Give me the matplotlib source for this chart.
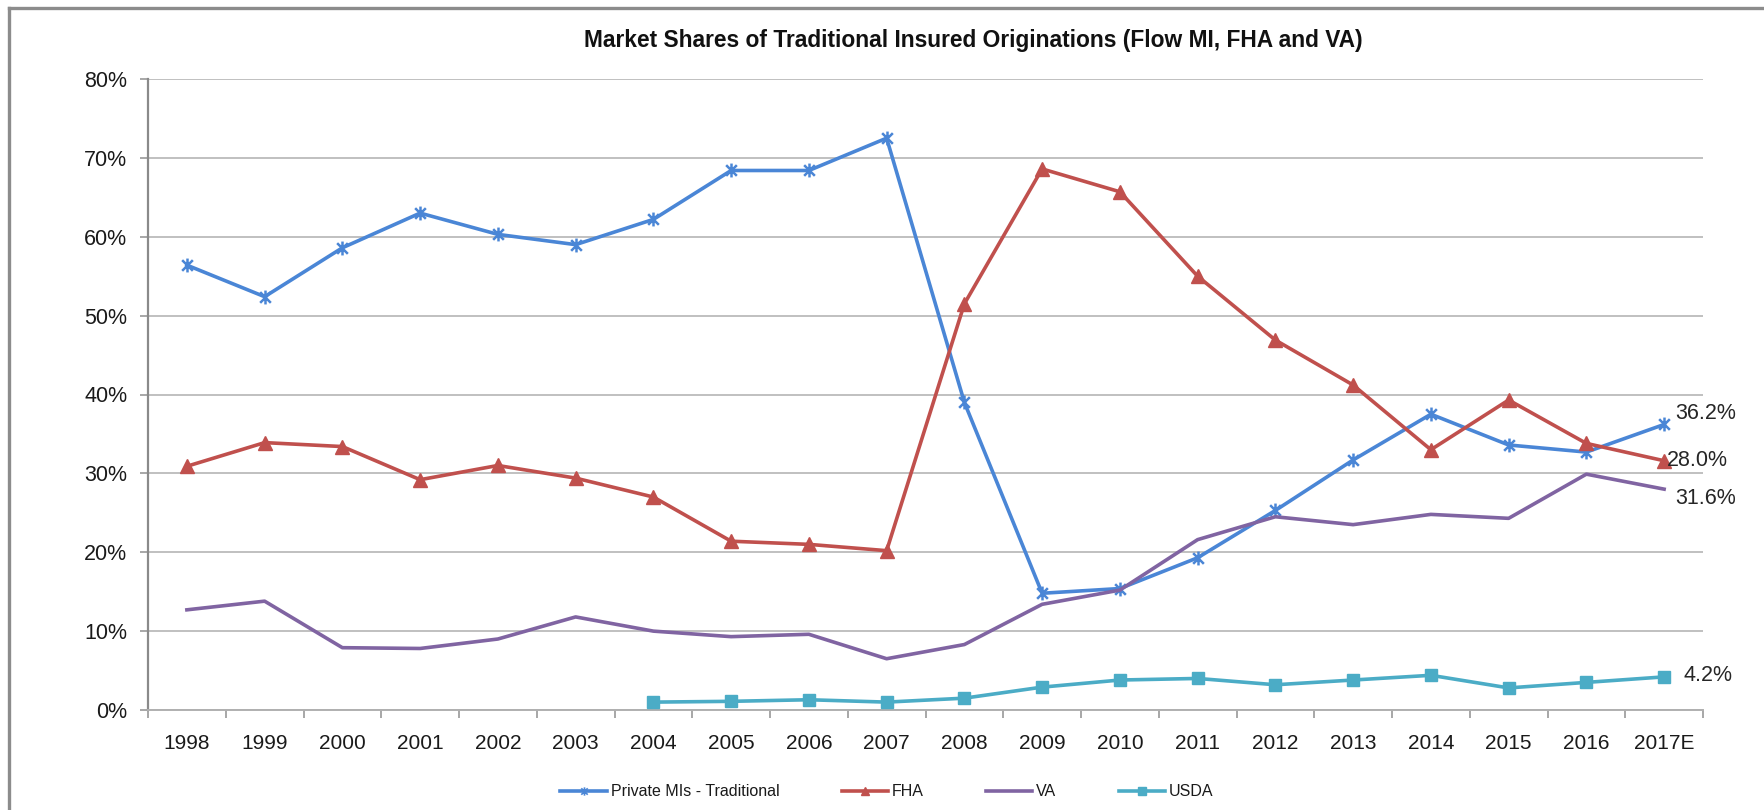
import matplotlib
matplotlib.use("Agg")
import matplotlib.pyplot as plt
from matplotlib.path import Path
from matplotlib.lines import Line2D
from matplotlib.ticker import FuncFormatter, FixedLocator

FONT = ['Liberation Sans Narrow', 'Liberation Sans', 'DejaVu Sans']
plt.rcParams['font.family'] = FONT

years = ['1998', '1999', '2000', '2001', '2002', '2003', '2004', '2005', '2006', '2007',
         '2008', '2009', '2010', '2011', '2012', '2013', '2014', '2015', '2016', '2017E']
private_mi = [56.4, 52.4, 58.6, 63.0, 60.3, 59.0, 62.2, 68.4, 68.4, 72.5,
              39.0, 14.8, 15.4, 19.3, 25.3, 31.7, 37.5, 33.6, 32.7, 36.2]
fha = [30.9, 33.9, 33.4, 29.2, 31.0, 29.4, 27.0, 21.4, 21.0, 20.2,
       51.5, 68.6, 65.7, 55.0, 46.9, 41.2, 33.0, 39.3, 33.8, 31.6]
va = [12.7, 13.8, 7.9, 7.8, 9.0, 11.8, 10.0, 9.3, 9.6, 6.5,
      8.3, 13.4, 15.2, 21.6, 24.5, 23.5, 24.8, 24.3, 29.9, 28.0]
usda = [None, None, None, None, None, None, 1.0, 1.1, 1.3, 1.0,
        1.5, 2.9, 3.8, 4.0, 3.2, 3.8, 4.4, 2.8, 3.5, 4.2]
series_names = ['Private MIs - Traditional', 'FHA', 'VA', 'USDA']
end_labels = ['36.2%', '28.0%', '31.6%', '4.2%']
title = 'Market Shares of Traditional Insured Originations (Flow MI, FHA and VA)'

W, H = 1764, 810
fig = plt.figure(figsize=(W / 100, H / 100), dpi=100)
ax = fig.add_axes([148 / W, 1 - 710 / H, (1703 - 148) / W, (710 - 79) / H])

x = list(range(len(years)))

star = Path([(-1, -1), (1, 1), (-1, 1), (1, -1), (0, -1.3), (0, 1.3)],
            [Path.MOVETO, Path.LINETO, Path.MOVETO, Path.LINETO, Path.MOVETO, Path.LINETO])

c_blue, c_red, c_purple, c_teal = '#4A86D6', '#C0504D', '#8064A2', '#4BACC6'
lw = 2.6

ax.plot(x, private_mi, color=c_blue, lw=lw, marker=star, ms=10, mew=1.8,
        label=series_names[0], zorder=3)
ax.plot(x, fha, color=c_red, lw=lw, marker='^', ms=10, label=series_names[1], zorder=3)
ax.plot(x, va, color=c_purple, lw=lw, label=series_names[2], zorder=3)
ux = [i for i, v in zip(x, usda) if v is not None]
uy = [v for v in usda if v is not None]
ax.plot(ux, uy, color=c_teal, lw=lw, marker='s', ms=9, label=series_names[3], zorder=3)

ax.set_xlim(-0.5, len(years) - 0.5)
ax.set_ylim(0, 80)
ax.yaxis.set_major_locator(FixedLocator([0, 10, 20, 30, 40, 50, 60, 70, 80]))
ax.yaxis.set_major_formatter(FuncFormatter(lambda v, p: f'{v:.0f}%'))
ax.grid(axis='y', color='#C0C0C0', lw=1.4, zorder=0)
ax.set_axisbelow(True)

ax.set_xticks(x)
ax.set_xticklabels(years)
ax.set_xticks([i - 0.5 for i in range(len(years) + 1)], minor=True)
ax.tick_params(axis='x', which='major', length=0, pad=17, labelsize=15, colors='#1a1a1a')
ax.tick_params(axis='x', which='minor', length=6, width=1.3, color='#a0a0a0')
ax.tick_params(axis='y', which='major', length=6, width=1.3, color='#a0a0a0', pad=9,
               labelsize=15.5, labelcolor='#1a1a1a')

for s in ['top', 'right']:
    ax.spines[s].set_visible(False)
ax.spines['left'].set_color('#8a8a8a')
ax.spines['left'].set_linewidth(1.6)
ax.spines['bottom'].set_color('#b0b0b0')
ax.spines['bottom'].set_linewidth(1.4)

last = len(years) - 1
offsets = [(8, 8), (2, 0), (8, -7), (14, 1)]
ends = [private_mi[last], fha[last], va[last], usda[last]]
for lab, val, off in zip(end_labels, ends, offsets):
    ax.annotate(lab, xy=(last, val), xytext=off, textcoords='offset points',
                ha='left', va='center', fontsize=15.5, color='#262626', zorder=4)

fig.text(973 / W, 1 - 40 / H, title, ha='center', va='center', fontsize=16.4,
         fontweight='bold', color='#111111')

handles = [
    Line2D([], [], color=c_blue, lw=lw, marker=star, ms=6, mew=1.2),
    Line2D([], [], color=c_red, lw=lw, marker='^', ms=6),
    Line2D([], [], color=c_purple, lw=lw),
    Line2D([], [], color=c_teal, lw=lw, marker='s', ms=6),
]
fig.legend(handles, series_names, loc='center', bbox_to_anchor=(887 / W, 1 - 792 / H),
           ncol=4, frameon=False, fontsize=11.5, handlelength=2.9, handletextpad=0.25,
           columnspacing=3.9, labelcolor='#1a1a1a')

# outer chart frame (cropped on right and bottom)
fig.add_artist(Line2D([9 / W, 1.0], [1 - 8 / H, 1 - 8 / H], transform=fig.transFigure,
                      color='#8c8c8c', lw=2.4))
fig.add_artist(Line2D([9 / W, 9 / W], [1 - 8 / H, 0.0], transform=fig.transFigure,
                      color='#8c8c8c', lw=2.4))

fig.savefig('out.png', dpi=100, facecolor='white')
